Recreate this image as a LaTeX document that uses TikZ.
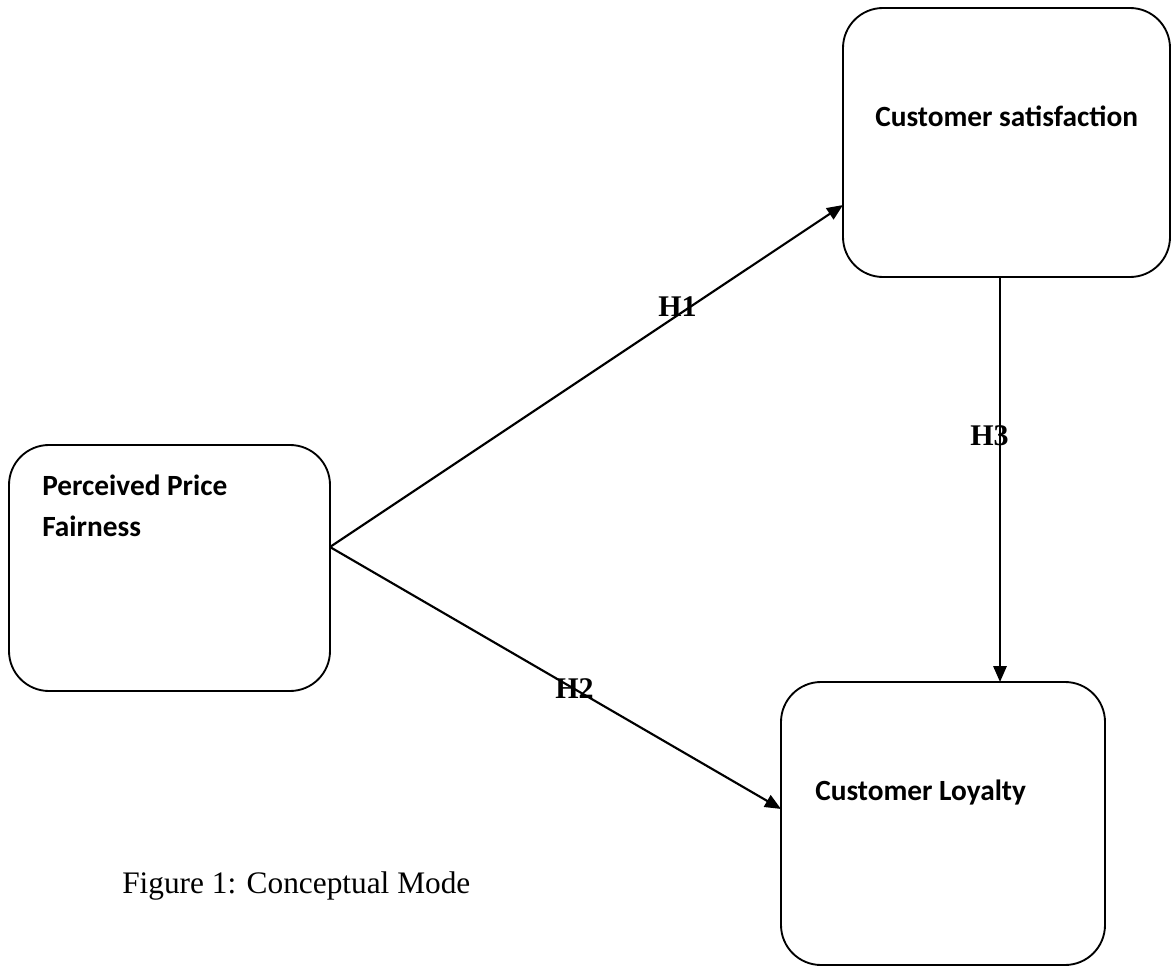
\documentclass[tikz,border=0pt]{standalone}
\usepackage{fontspec}
\setmainfont{Liberation Serif}
\newfontfamily\boxfont{Carlito}
\usepackage{tikz}
\usetikzlibrary{arrows.meta}

\tikzset{
  blok/.style={draw, line width=1.4pt, rounded corners=30pt, inner sep=0pt, outer sep=0pt},
  arr/.style={line width=1.6pt, -{Triangle[length=12pt,width=10pt]}},
  boxtxt/.style={anchor=base west, inner sep=0pt, font=\boxfont\bfseries\fontsize{22pt}{26pt}\selectfont},
  hyp/.style={anchor=base west, inner sep=0pt, font=\bfseries\fontsize{22.5pt}{26pt}\selectfont}
}

\begin{document}
\begin{tikzpicture}[x=0.75pt,y=0.75pt,yscale=-1,xscale=1]
        \useasboundingbox (0,0) rectangle (1171,966);

        \node[blok, minimum width=240.75pt, minimum height=184.5pt] (ppf) at (169.5,568) {};
        \node[blok, minimum width=245.25pt, minimum height=201.75pt] (cs) at (1006.5,142.5) {};
        \node[blok, minimum width=243pt, minimum height=212.25pt] (cl) at (943,823.5) {};

        \node[boxtxt] (ppf1) at (42,495) {Perceived Price};
        \node[boxtxt] (ppf2) at (42,536) {Fairness};
        \node[boxtxt] (cstxt) at (875,127) {Customer satisfaction};
        \node[boxtxt] (cltxt) at (815,800) {Customer Loyalty};

        \coordinate (h3x) at (1000,0);
        \draw[arr] ([yshift=-15.75pt]ppf.east) -- ([yshift=46.9pt]cs.west);
        \draw[arr] ([yshift=-15.75pt]ppf.east) -- ([yshift=-10.9pt]cl.west);
        \draw[arr] (cs.south -| h3x) -- (cl.north -| h3x);

        \node[hyp] (h1) at (658,317) {H1};
        \node[hyp] (h2) at (555,698) {H2};
        \node[hyp] (h3) at (970,445) {H3};

        \node[anchor=base west, inner sep=0pt, font=\fontsize{23.5pt}{28pt}\selectfont] (cap) at (122,893) {Figure 1: Conceptual Mode};
    \end{tikzpicture}
\end{document}
